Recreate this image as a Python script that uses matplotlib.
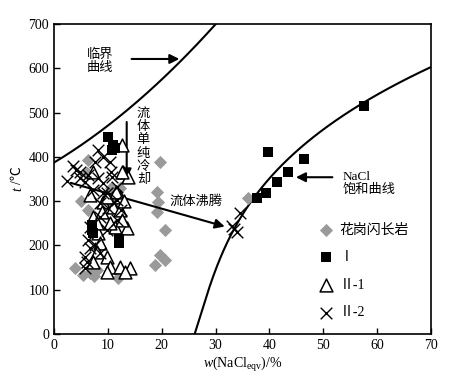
import numpy as np
import matplotlib.pyplot as plt

plt.rcParams['font.family'] = ['Liberation Serif', 'Noto Sans CJK SC', 'DejaVu Sans']
plt.rcParams['mathtext.fontset'] = 'custom'
plt.rcParams['mathtext.rm'] = 'Liberation Serif'
plt.rcParams['mathtext.it'] = 'Liberation Serif:italic'

# 花岗闪长岩
gd_w = [6.3, 19.7, 19.1, 19.3, 19.1, 20.6, 19.7, 20.6, 18.8, 3.9, 5.4, 6.7, 11.9,
        6.3, 6.1, 12.3, 10.8, 36.0, 7.5, 8.0, 10.5, 5.0]
gd_t = [393, 389, 321, 298, 275, 235, 178, 167, 156, 149, 133, 138, 126,
        280, 363, 330, 296, 307, 130, 145, 330, 300]

# I
s1_w = [57.5, 39.7, 46.4, 43.4, 41.4, 39.3, 37.7, 10.0, 11.0, 10.8, 11.4, 7.0, 7.1, 7.2, 12.0, 12.1]
s1_t = [515, 411, 395, 366, 343, 318, 307, 445, 427, 415, 420, 246, 235, 228, 215, 205]

# II-1
s21_w = [12.6, 12.8, 13.7, 9.1, 12.3, 11.0, 12.3, 13.5, 7.2, 11.4, 8.2, 8.5, 8.0, 9.8,
         7.2, 10.4, 12.3, 14.1, 9.8, 13.2, 8.9, 9.8, 6.7, 7.2, 12.6, 10.4, 12.6, 11.5, 8.0, 13.0]
s21_t = [427, 366, 354, 298, 310, 287, 280, 239, 264, 242, 228, 205, 185, 174,
         163, 151, 151, 149, 140, 140, 275, 309, 314, 366, 366, 250, 257, 320, 250, 300]

# II-2
s22_w = [34.5, 33.0, 34.0, 33.5, 8.2, 9.1, 7.6, 10.4, 4.8, 6.3, 5.8, 8.2, 9.1, 10.8,
         7.2, 9.8, 11.7, 4.8, 6.7, 6.3, 6.7, 5.8, 6.1, 9.1, 8.5, 10.0, 11.7, 8.5, 11.7,
         9.8, 5.8, 7.6, 8.5, 3.5, 4.0, 2.5, 10.5, 12.5]
s22_t = [273, 245, 230, 238, 415, 400, 388, 388, 366, 359, 343, 352, 341, 354,
         325, 318, 332, 352, 242, 212, 194, 174, 163, 318, 296, 284, 302, 264, 257,
         235, 149, 201, 183, 380, 370, 345, 365, 280]

# 临界曲线 control points
crit_w = [0, 6, 12, 18, 23.8, 30.1]
crit_t = [388, 433, 490, 552, 621, 700]
# NaCl 饱和曲线 control points
sat_t = [0, 54, 151, 298, 408, 515, 605]
sat_w = [26.2, 27.1, 30.8, 36.4, 43.8, 57.5, 70.0]

fig = plt.figure(figsize=(4.51, 3.79), dpi=100)
ax = fig.add_axes([0.1197, 0.1187, 0.836, 0.818])

cw = np.linspace(0, 30.5, 200)
ax.plot(cw, np.polyval(np.polyfit(crit_w, crit_t, 2), cw), color='black', lw=1.5)
st = np.linspace(0, 610, 200)
ax.plot(np.polyval(np.polyfit(sat_t, sat_w, 3), st), st, color='black', lw=1.5)

ax.scatter(gd_w, gd_t, marker='D', s=45, color='#9a9a9a', lw=0, label='花岗闪长岩', zorder=3)
ax.scatter(s21_w, s21_t, marker='^', s=85, facecolor='white', edgecolor='black', lw=1.1,
           label='Ⅱ-1', zorder=4)
ax.scatter(s22_w, s22_t, marker='x', s=70, color='black', lw=1.0, label='Ⅱ-2', zorder=5)
ax.scatter(s1_w, s1_t, marker='s', s=60, color='black', lw=0, label='Ⅰ', zorder=6)

arrow = dict(arrowstyle='-|>', color='black', lw=1.5, mutation_scale=14)
ax.annotate('', xy=(23.8, 621), xytext=(13.9, 621), arrowprops=arrow)
ax.text(8.5, 616, '临界\n曲线', ha='center', va='center', fontsize=9.5, linespacing=1.1)
ax.annotate('', xy=(44.4, 354), xytext=(52.2, 354), arrowprops=arrow)
ax.text(53.6, 340, 'NaCl\n饱和曲线', ha='left', va='center', fontsize=9.5, linespacing=1.1)
ax.annotate('', xy=(32.2, 241), xytext=(2.6, 343), arrowprops=arrow)
ax.text(26.3, 300, '流体沸腾', ha='center', va='center', fontsize=9.5)
ax.annotate('', xy=(13.5, 345), xytext=(13.5, 485), arrowprops=arrow)
ax.text(16.6, 422, '流\n体\n单\n纯\n冷\n却', ha='center', va='center', fontsize=9.5,
        linespacing=1.13)

handles, labels = ax.get_legend_handles_labels()
order = [0, 3, 1, 2]
ax.legend([handles[i] for i in order], [labels[i] for i in order], loc='upper left',
          bbox_to_anchor=(0.68, 0.375), frameon=False, fontsize=10, labelspacing=1.05,
          handletextpad=0.2, handlelength=1.5, borderaxespad=0)

ax.set_xlim(0, 70)
ax.set_ylim(0, 700)
ax.set_xticks(range(0, 71, 10))
ax.set_yticks(range(0, 701, 100))
ax.tick_params(direction='in', length=4, width=1, labelsize=10)
for s in ax.spines.values():
    s.set_linewidth(1.2)
ax.set_xlabel('$w$(NaCl$_{\\mathrm{eqv}}$)/%', fontsize=10, labelpad=2)
ax.text(-0.097, 0.468, 't', style='italic', rotation=90, fontsize=10,
        transform=ax.transAxes, ha='center', va='center')
ax.text(-0.097, 0.512, '/℃', rotation=90, fontsize=10,
        transform=ax.transAxes, ha='center', va='center')

fig.savefig('out.png', dpi=100)
